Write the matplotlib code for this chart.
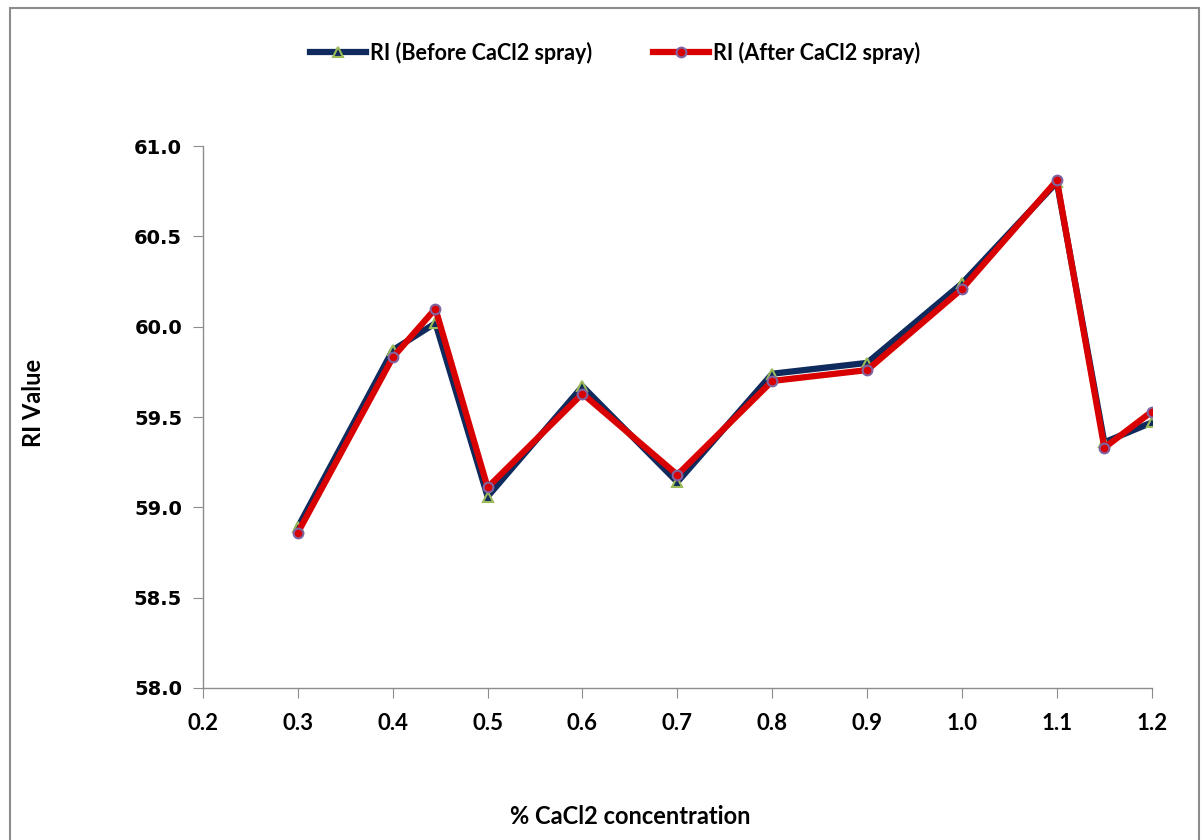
import matplotlib
matplotlib.use("Agg")
import matplotlib.pyplot as plt
from matplotlib.patches import Rectangle

# data
conc = [0.3, 0.4, 0.445, 0.5, 0.6, 0.7, 0.8, 0.9, 1.0, 1.1, 1.15, 1.2]
ri_before = [58.89, 59.87, 60.02, 59.06, 59.67, 59.14, 59.74, 59.80, 60.24, 60.80, 59.36, 59.47]
ri_after = [58.86, 59.83, 60.10, 59.11, 59.63, 59.18, 59.70, 59.76, 60.21, 60.81, 59.33, 59.53]

x_ticks = [0.2, 0.3, 0.4, 0.5, 0.6, 0.7, 0.8, 0.9, 1.0, 1.1, 1.2]
y_ticks = [58.0, 58.5, 59.0, 59.5, 60.0, 60.5, 61.0]

fig = plt.figure(figsize=(12.01, 8.4), dpi=100)
ax = fig.add_axes([0.169, 0.181, 0.790, 0.645])

# outer chart border like the Excel chart area
fig.patches.append(Rectangle((0.008, -0.01), 0.99, 1.0, transform=fig.transFigure,
                             fill=False, edgecolor="#8c8c8c", linewidth=1.5))

ax.plot(conc, ri_before, color="#0f2a5c", linewidth=4.5, marker="^", markersize=7,
        markerfacecolor="#0f2a5c", markeredgecolor="#9bbb59", markeredgewidth=1.5,
        label="RI (Before CaCl2 spray)", zorder=3)
ax.plot(conc, ri_after, color="#d80000", linewidth=4.5, marker="o", markersize=7,
        markerfacecolor="#d80000", markeredgecolor="#8064a2", markeredgewidth=1.5,
        label="RI (After CaCl2 spray)", zorder=4)

ax.set_xlim(0.2, 1.2)
ax.set_ylim(58.0, 61.0)
ax.set_xticks(x_ticks)
ax.set_xticklabels([f"{v:.1f}" for v in x_ticks], fontfamily="Lato", fontweight="bold", fontsize=16)
ax.set_yticks(y_ticks)
ax.set_yticklabels([f"{v:.1f}" for v in y_ticks], fontfamily="DejaVu Sans", fontweight="bold", fontsize=14)

for side in ["top", "right"]:
    ax.spines[side].set_visible(False)
for side in ["left", "bottom"]:
    ax.spines[side].set_color("#8c8c8c")
    ax.spines[side].set_linewidth(1.0)
ax.tick_params(axis="both", direction="out", length=7, color="#8c8c8c", pad=8)
ax.tick_params(axis="x", pad=11)

fig.text(0.028, 0.52, "RI Value", rotation=90, ha="center", va="center",
         fontfamily="Lato", fontweight="bold", fontsize=17)
fig.text(0.525, 0.028, "% CaCl2 concentration", ha="center", va="center",
         fontfamily="Lato", fontweight="bold", fontsize=17)

ax.legend(loc="center", bbox_to_anchor=(0.512, 0.937), bbox_transform=fig.transFigure,
          ncol=2, frameon=False, prop={"family": "Lato", "weight": "bold", "size": 15.5},
          handlelength=2.6, columnspacing=2.8, handletextpad=0.2)

fig.savefig("out.png", dpi=100)
